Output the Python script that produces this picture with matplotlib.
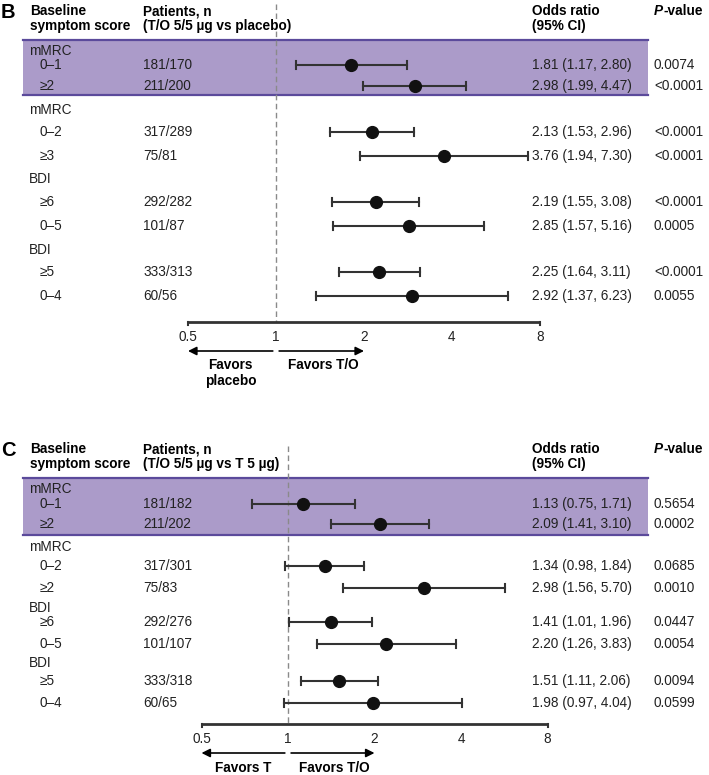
import matplotlib.pyplot as plt
from matplotlib.transforms import blended_transform_factory

plt.rcParams['font.family'] = ['Liberation Sans', 'DejaVu Sans']

# ---- data, panel B (T/O vs placebo) ----
b_groups = ["mMRC", "mMRC", "BDI", "BDI"]
b_subs = ["0\u20131", "\u22652", "0\u20132", "\u22653", "\u22656", "0\u20135", "\u22655", "0\u20134"]
b_pat = ["181/170", "211/200", "317/289", "75/81", "292/282", "101/87", "333/313", "60/56"]
b_or = [1.81, 2.98, 2.13, 3.76, 2.19, 2.85, 2.25, 2.92]
b_lo = [1.17, 1.99, 1.53, 1.94, 1.55, 1.57, 1.64, 1.37]
b_hi = [2.80, 4.47, 2.96, 7.30, 3.08, 5.16, 3.11, 6.23]
b_p = ["0.0074", "<0.0001", "<0.0001", "<0.0001", "<0.0001", "0.0005", "<0.0001", "0.0055"]

# ---- data, panel C (T/O vs T) ----
c_groups = ["mMRC", "mMRC", "BDI", "BDI"]
c_subs = ["0\u20131", "\u22652", "0\u20132", "\u22652", "\u22656", "0\u20135", "\u22655", "0\u20134"]
c_pat = ["181/182", "211/202", "317/301", "75/83", "292/276", "101/107", "333/318", "60/65"]
c_or = [1.13, 2.09, 1.34, 2.98, 1.41, 2.20, 1.51, 1.98]
c_lo = [0.75, 1.41, 0.98, 1.56, 1.01, 1.26, 1.11, 0.97]
c_hi = [1.71, 3.10, 1.84, 5.70, 1.96, 3.83, 2.06, 4.04]
c_p = ["0.5654", "0.0002", "0.0685", "0.0010", "0.0447", "0.0054", "0.0094", "0.0599"]

ticks = [0.5, 1, 2, 4, 8]
tick_labels = ["0.5", "1", "2", "4", "8"]

W, H = 709, 775
fig = plt.figure(figsize=(W / 100, H / 100), dpi=100)

BAND = "#ab9bc9"
EDGE = "#5b4a9b"
FS = 9.8
TXT = '#222222'


def panel(y0, y1, one_px, dbl, letter, comp, groups, subs, pat, orv, lo, hi, pv,
          ytop, yband, ygrp, yrow, yaxis, left_fav, dash_top, fav_dy):
    ax = fig.add_axes([0, 1 - y1 / H, 1, (y1 - y0) / H])
    ax.set_xscale('log', base=2)
    ax.set_xlim(2 ** (-one_px / dbl), 2 ** ((W - one_px) / dbl))
    ax.set_ylim(y1, y0)
    ax.axis('off')
    tr = blended_transform_factory(ax.transAxes, ax.transData)
    fx = lambda px: px / W

    # header
    ax.text(fx(1), ytop + 1, letter, transform=tr, fontsize=14.5, fontweight='bold', va='center')
    hdr = dict(transform=tr, fontsize=FS, fontweight='bold', va='center')
    ax.text(fx(30), ytop, "Baseline", **hdr)
    ax.text(fx(30), ytop + 15, "symptom score", **hdr)
    ax.text(fx(143), ytop, "Patients, n", **hdr)
    ax.text(fx(143), ytop + 15, comp, **hdr)
    ax.text(fx(532), ytop, "Odds ratio", **hdr)
    ax.text(fx(532), ytop + 15, "(95% CI)", **hdr)
    tp = ax.text(fx(654), ytop, "P", transform=tr, fontsize=FS, fontweight='bold',
                 style='italic', va='center')
    ax.annotate("-value", xy=(1, 0.5), xycoords=tp, va='center', fontsize=FS,
                fontweight='bold')

    # highlighted band
    ax.axhspan(yband[0], yband[1], xmin=fx(23), xmax=fx(648), color=BAND, lw=0, zorder=0)
    for yb in yband:
        ax.plot([fx(23), fx(648)], [yb, yb], transform=tr, color=EDGE, lw=1.6, zorder=1)

    # null line
    ax.plot([1, 1], [dash_top, yaxis], color='#8a8a8a', lw=1, ls=(0, (4, 2.5)), zorder=2)

    for g, y in zip(groups, ygrp):
        ax.text(fx(29), y, g, transform=tr, fontsize=FS, va='center', color=TXT)
    for i, y in enumerate(yrow):
        ax.text(fx(40), y, subs[i], transform=tr, fontsize=FS, va='center', color=TXT)
        ax.text(fx(143), y, pat[i], transform=tr, fontsize=FS, va='center', color=TXT)
        ax.text(fx(532), y, "%.2f (%.2f, %.2f)" % (orv[i], lo[i], hi[i]), transform=tr,
                fontsize=FS, va='center', color=TXT)
        ax.text(fx(654), y, pv[i], transform=tr, fontsize=FS, va='center', color=TXT)
        ax.plot([lo[i], hi[i]], [y, y], color='#333333', lw=1.5, zorder=3)
        for e in (lo[i], hi[i]):
            ax.plot([e, e], [y - 4, y + 4], color='#333333', lw=1.5, zorder=3)
        ax.plot(orv[i], y, 'o', color='#111111', ms=8.5, zorder=4)

    # x axis
    ax.plot([ticks[0], ticks[-1]], [yaxis, yaxis], color='#333333', lw=2, zorder=3,
            solid_capstyle='butt')
    for t in (ticks[0], ticks[-1]):
        ax.plot([t, t], [yaxis, yaxis + 3], color='#333333', lw=1.5)
    for t, lab in zip(ticks, tick_labels):
        ax.text(t, yaxis + 15, lab, ha='center', va='center', fontsize=FS, color=TXT)

    ya = yaxis + 29
    ap = dict(arrowstyle='-|>,head_length=0.5,head_width=0.25', color='black', lw=1.2,
              shrinkA=0, shrinkB=0)
    ax.annotate("", xy=(0.5, ya), xytext=(0.975, ya), arrowprops=ap)
    ax.annotate("", xy=(2, ya), xytext=(1.025, ya), arrowprops=ap)
    ax.text(left_fav[0], ya + fav_dy, left_fav[1], ha='center', va='top', fontsize=FS,
            fontweight='bold', linespacing=1.2)
    ax.text(1.45, ya + fav_dy, "Favors T/O", ha='center', va='top', fontsize=FS,
            fontweight='bold')
    return ax


panel(0, 400, 276, 88, "B", "(T/O 5/5 \u00b5g vs placebo)",
      b_groups, b_subs, b_pat, b_or, b_lo, b_hi, b_p,
      ytop=11, yband=(40, 95), ygrp=[51, 110, 179, 250],
      yrow=[65, 86, 132, 156, 202, 226, 272, 296], yaxis=322,
      left_fav=(0.7, "Favors\nplacebo"), dash_top=4, fav_dy=7)

panel(400, 775, 288, 86.5, "C", "(T/O 5/5 \u00b5g vs T 5 \u00b5g)",
      c_groups, c_subs, c_pat, c_or, c_lo, c_hi, c_p,
      ytop=449, yband=(478, 535), ygrp=[489, 547, 608, 663],
      yrow=[504, 524, 566, 588, 622, 644, 681, 703], yaxis=724,
      left_fav=(0.7, "Favors T"), dash_top=446, fav_dy=8)

fig.savefig("out.png", dpi=100)
